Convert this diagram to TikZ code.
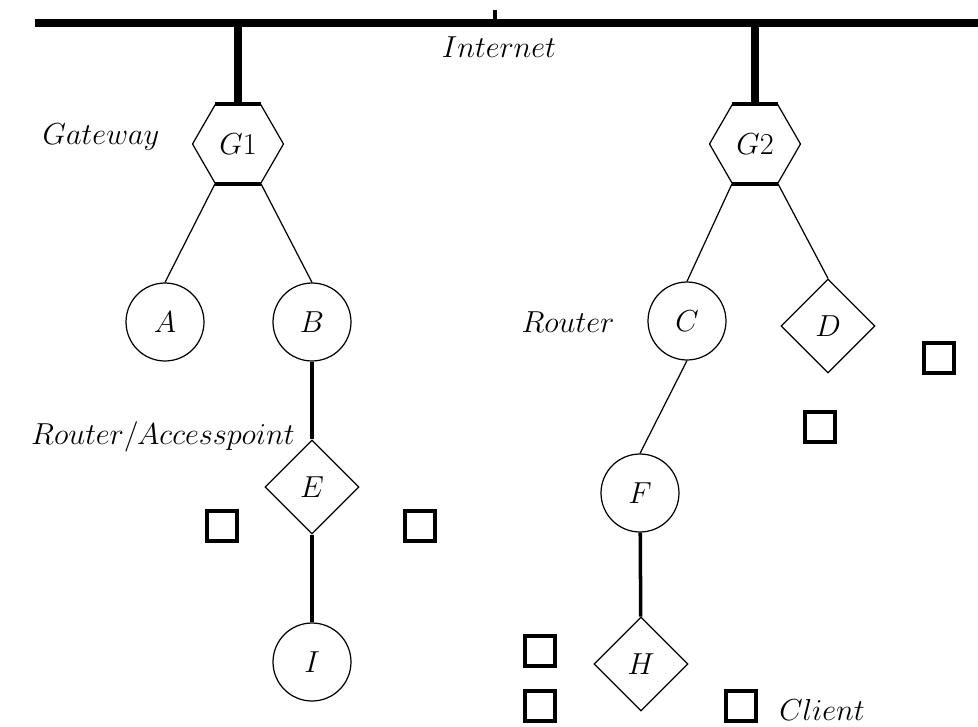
\documentclass[tikz,border=0pt]{standalone}
\usepackage{amsmath}
\usetikzlibrary{arrows,shapes,positioning}

\begin{document}
\begin{tikzpicture}[x=0.02cm,y=-0.02cm,font=\fontsize{18.2}{21}\selectfont]

  \tikzstyle{gateway}=[regular polygon,regular polygon sides=6,draw,
                       line width=0.7pt,inner sep=0pt,minimum size=1.82cm]
  \tikzstyle{router}=[circle,draw,line width=0.7pt,inner sep=0pt,minimum size=1.56cm]
  \tikzstyle{access}=[diamond,draw,line width=0.7pt,inner sep=0pt,minimum size=1.88cm]
  \tikzstyle{client}=[rectangle,draw,line width=2.3pt,inner sep=0pt,minimum size=0.6cm]
  \tikzstyle{link}=[line width=0.7pt]
  \tikzstyle{wire}=[line width=2pt]
  \tikzstyle{trunk}=[line width=4pt]
  \tikzstyle{hexedge}=[line width=2.4pt]

  \useasboundingbox (0,0) rectangle (978,727);

  % Internet backbone
  \coordinate (busL) at (35,23);
  \coordinate (busR) at (978,23);
  \coordinate (busTick) at (495,10);
  \draw [trunk] (busL) -- (busR);
  \draw [line width=2.2pt] (busTick) -- (busTick |- busL);
  \node (inet) at (499,47) {$Internet$};

  % Gateways
  \node [gateway] (G1) at (238,144) {$G1$};
  \node [gateway] (G2) at (755,144) {$G2$};
  \node (gwlabel) at (101,137) {$Gateway$};
  \foreach \g in {G1,G2} {
    \draw [hexedge] (\g.corner 1) -- (\g.corner 2);
    \draw [hexedge] (\g.corner 4) -- (\g.corner 5);
    \draw [trunk] (\g.north) -- (\g.north |- busL);
  }

  % First tree
  \node [router] (A) at (165,322) {$A$};
  \node [router] (B) at (312,322) {$B$};
  \node [access] (E) at (312,487) {$E$};
  \node [router] (I) at (312,662) {$I$};
  \node (aplabel) at (163,437) {$Router/Accesspoint$};

  \draw [link] (G1.corner 4) -- (A.north);
  \draw [link] (G1.corner 5) -- (B.north);
  \draw [wire] (B) -- (E);
  \draw [wire] (E) -- (I);

  % Second tree
  \node [router] (C) at (687,321) {$C$};
  \node [access] (D) at (828,326) {$D$};
  \node [router] (F) at (640,493) {$F$};
  \node [access] (H) at (641,664) {$H$};
  \node (rtlabel) at (568,322) {$Router$};

  \draw [link] (G2.corner 4) -- (C.north);
  \draw [link] (G2.corner 5) -- (D.north);
  \draw [link] (C.south) -- (F.north);
  \draw [wire] (F) -- (H);

  % Clients
  \node [client] (c1) at (222,526) {};
  \node [client] (c2) at (420,526) {};
  \node [client] (c3) at (939,358) {};
  \node [client] (c4) at (820,427) {};
  \node [client] (c5) at (540,651) {};
  \node [client] (c6) at (540,706) {};
  \node [client] (c7) at (741,706) {};
  \node (cllabel) at (822,710) {$Client$};
\end{tikzpicture}
\end{document}
